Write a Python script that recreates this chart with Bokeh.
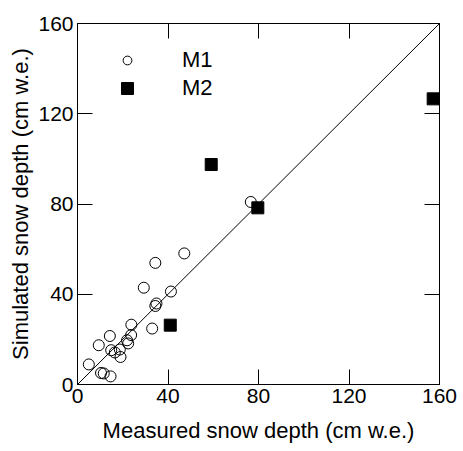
from bokeh.plotting import figure
from bokeh.models import LinearAxis, Range1d, FixedTicker, Legend, LegendItem
from bokeh.embed import file_html
from bokeh.resources import INLINE

# M1 (open circles)
m1_measured = [29.3, 41.3, 34.9, 34.4, 23.8, 33.0, 14.3, 9.4, 23.7, 21.9, 22.4,
               14.9, 16.5, 18.7, 19.0, 5.0, 10.4, 11.6, 14.6, 76.6, 47.2, 34.4]
m1_simulated = [42.9, 41.2, 35.9, 34.8, 26.5, 24.8, 21.5, 17.4, 21.9, 19.6, 18.2,
                15.2, 14.2, 15.5, 12.2, 8.9, 5.1, 4.9, 3.6, 80.9, 58.1, 53.9]
# M2 (filled squares)
m2_measured = [41.0, 59.1, 79.7, 157.2]
m2_simulated = [26.3, 97.5, 78.3, 126.6]

one_to_one = [0, 160]
ticks = [0, 40, 80, 120, 160]
x_title = "Measured snow depth (cm w.e.)"
y_title = "Simulated snow depth (cm w.e.)"
FONT = "Liberation Sans"

p = figure(width=463, height=451, output_backend="svg", toolbar_location=None,
           x_range=Range1d(0, 160), y_range=Range1d(0, 160),
           min_border_left=77, min_border_right=24, min_border_top=23, min_border_bottom=67)
p.xgrid.visible = False
p.ygrid.visible = False
p.outline_line_color = "black"
p.outline_line_width = 1
p.background_fill_color = "white"
p.border_fill_color = "white"

for ax in (p.xaxis[0], p.yaxis[0]):
    ax.ticker = FixedTicker(ticks=ticks)
    ax.major_tick_in = 15
    ax.major_tick_out = 0
    ax.minor_tick_in = 0
    ax.minor_tick_out = 0
    ax.axis_line_color = "black"
    ax.major_tick_line_color = "black"
    ax.major_label_text_font = FONT
    ax.major_label_text_font_size = "21px"
    ax.major_label_text_color = "black"
    ax.major_label_standoff = 4
    ax.axis_label_text_font = FONT
    ax.axis_label_text_font_size = "22px"
    ax.axis_label_text_font_style = "normal"
    ax.axis_label_text_color = "black"

p.xaxis[0].axis_label = x_title
p.xaxis[0].axis_label_standoff = 12
p.yaxis[0].axis_label = y_title
p.yaxis[0].axis_label_standoff = 2

for loc in ("above", "right"):
    a = LinearAxis(ticker=FixedTicker(ticks=ticks), major_tick_in=15, major_tick_out=0,
                   minor_tick_in=0, minor_tick_out=0,
                   major_label_overrides={t: "" for t in ticks}, major_label_standoff=0,
                   axis_line_color="black", major_tick_line_color="black")
    p.add_layout(a, loc)

p.line(one_to_one, one_to_one, line_color="black", line_width=1)

r1 = p.scatter(m1_measured, m1_simulated, marker="circle", size=11,
               fill_color=None, line_color="black", line_width=1)
r2 = p.scatter(m2_measured, m2_simulated, marker="square", size=12,
               fill_color="black", line_color="black")

common = dict(padding=10, margin=0, border_line_color=None, background_fill_alpha=0,
              label_text_font=FONT, label_text_font_size="22px", label_text_color="black")
leg1 = Legend(items=[LegendItem(label="M1", renderers=[r1])], location=(39, 311),
              glyph_width=22, glyph_height=22, label_height=22, label_standoff=44, **common)
leg2 = Legend(items=[LegendItem(label="M2", renderers=[r2])], location=(35, 281),
              glyph_width=30, glyph_height=30, label_height=30, label_standoff=40, **common)
p.add_layout(leg1)
p.add_layout(leg2)

open("out.html", "w").write(file_html(p, INLINE))
